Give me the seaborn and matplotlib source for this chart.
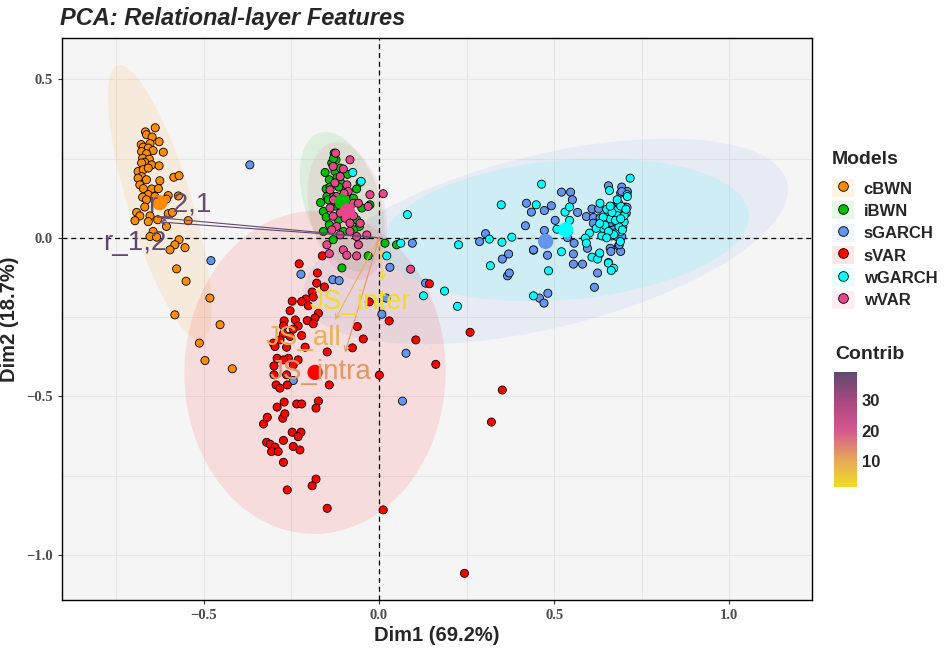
import numpy as np
import pandas as pd
import matplotlib
matplotlib.use("Agg")
import matplotlib.pyplot as plt
import seaborn as sns
from matplotlib.colors import LinearSegmentedColormap, Normalize
from matplotlib.patches import Polygon, Patch
from matplotlib.lines import Line2D
import matplotlib.cm as cm

#------ individual coordinates per model (Dim1, Dim2) ------
cbwn_x = [-0.639, -0.667, -0.664, -0.648, -0.628, -0.679, -0.654, -0.673, -0.659, -0.645,
          -0.616, -0.678, -0.664, -0.675, -0.656, -0.669, -0.678, -0.649, -0.628, -0.688,
          -0.673, -0.659, -0.678, -0.688, -0.664, -0.626, -0.586, -0.571, -0.683, -0.673,
          -0.649, -0.630, -0.659, -0.640, -0.675, -0.602, -0.573, -0.664, -0.630, -0.607,
          -0.669, -0.692, -0.683, -0.654, -0.697, -0.659, -0.632, -0.602, -0.590, -0.607,
          -0.545, -0.645, -0.654, -0.635, -0.571, -0.583, -0.597, -0.554, -0.578, -0.551,
          -0.483, -0.583, -0.454, -0.513, -0.497, -0.419]
cbwn_y = [0.347, 0.334, 0.325, 0.318, 0.303, 0.294, 0.297, 0.286, 0.283, 0.275,
          0.270, 0.272, 0.265, 0.251, 0.248, 0.238, 0.236, 0.230, 0.227, 0.209,
          0.215, 0.220, 0.193, 0.188, 0.183, 0.180, 0.191, 0.196, 0.167, 0.155,
          0.154, 0.155, 0.136, 0.130, 0.128, 0.133, 0.132, 0.120, 0.120, 0.122,
          0.097, 0.080, 0.069, 0.069, 0.054, 0.051, 0.057, 0.076, 0.080, 0.036,
          0.054, 0.020, 0.004, 0.002, -0.006, -0.022, -0.038, -0.031, -0.098, -0.137,
          -0.190, -0.243, -0.274, -0.332, -0.387, -0.413]

ibwn_x = [-0.128, -0.123, -0.135, -0.154, -0.126, -0.142, -0.151, -0.111, -0.149, -0.167,
          -0.159, -0.151, -0.142, -0.159, -0.131, -0.102, -0.054, -0.064, -0.073, -0.049,
          -0.064, -0.056, -0.026, -0.073, -0.102, -0.116, -0.135, -0.031, -0.106, 0.017,
          0.050, -0.140, -0.120, -0.100, -0.130, -0.110, -0.145, -0.090, -0.130, -0.115,
          -0.125]
ibwn_y = [0.267, 0.246, 0.236, 0.206, 0.209, 0.183, 0.154, 0.178, 0.130, 0.111,
          0.083, 0.065, 0.041, 0.020, -0.006, 0.020, 0.175, 0.154, 0.125, 0.094,
          0.057, 0.036, 0.104, 0.025, 0.088, 0.057, 0.115, -0.057, -0.095, -0.017,
          -0.022, 0.160, 0.190, 0.150, 0.130, 0.220, 0.120, 0.200, 0.250, 0.160,
          0.100]

sgarch_x = [0.095, 0.031, 0.133, 0.020, 0.008, 0.077, 0.067, 0.287, 0.304, 0.352,
            0.370, 0.367, 0.372, 0.441, 0.458, 0.471, -0.369, -0.480, -0.223, -0.132,
            -0.114, -0.245, 0.421, 0.435, 0.472, 0.492, 0.521, 0.547, 0.552, 0.418,
            0.503, 0.472, 0.538, 0.557, 0.441, 0.481, 0.555, 0.555, 0.581, 0.595,
            0.624, 0.615, 0.482, 0.655, 0.693, 0.709, 0.690, 0.608, 0.627, 0.567,
            0.592, 0.612, 0.631, 0.655, 0.670, 0.684, 0.703, 0.706, 0.686, 0.646,
            0.622, 0.612, 0.660, 0.679, 0.696, 0.653, 0.670, 0.686, 0.650, 0.665,
            0.679, 0.693, 0.660, 0.684, 0.662, 0.690, 0.696, 0.629, 0.655, 0.686,
            0.708, 0.693]
sgarch_y = [-0.017, -0.093, -0.143, -0.190, -0.241, -0.364, -0.515, -0.012, 0.013, -0.067,
            -0.051, -0.120, -0.111, -0.039, -0.190, -0.206, 0.230, -0.072, -0.115, -0.132,
            -0.135, -0.450, 0.109, 0.081, 0.086, 0.101, 0.144, 0.144, 0.120, 0.038,
            0.055, 0.023, 0.001, -0.017, -0.038, -0.055, -0.051, -0.083, -0.083, -0.033,
            -0.111, -0.156, -0.175, 0.164, 0.160, 0.146, 0.141, 0.091, 0.091, 0.080,
            0.067, 0.064, 0.062, 0.078, 0.099, 0.109, 0.097, 0.078, 0.078, 0.055,
            0.041, 0.046, 0.046, 0.046, 0.051, 0.025, 0.025, 0.027, 0.010, 0.006,
            0.004, 0.004, -0.033, -0.026, -0.043, -0.043, 0.036, -0.052, -0.078, -0.022,
            0.096, 0.146]

svar_x = [-0.162, -0.228, -0.176, -0.178, -0.156, -0.191, -0.188, -0.209, -0.221, -0.248,
          -0.202, -0.254, -0.173, -0.183, -0.205, -0.271, -0.239, -0.188, -0.231, -0.273,
          -0.245, -0.221, -0.273, -0.254, -0.283, -0.302, -0.297, -0.264, -0.211, -0.148,
          -0.076, -0.045, -0.062, -0.291, -0.259, -0.231, -0.273, -0.300, -0.245, -0.300,
          -0.264, -0.294, -0.283, -0.262, -0.142, -0.271, -0.291, -0.235, -0.221, -0.173,
          -0.180, -0.319, -0.330, -0.275, -0.269, -0.248, -0.223, -0.231, -0.273, -0.321,
          -0.311, -0.297, -0.307, -0.288, -0.245, -0.226, -0.273, -0.180, -0.191, -0.262,
          0.001, -0.028, 0.029, -0.148, 0.012, 0.244, 0.144, 0.105, 0.162, 0.260,
          0.352, 0.321]
svar_y = [-0.057, -0.082, -0.111, -0.143, -0.155, -0.171, -0.187, -0.193, -0.201, -0.200,
          -0.214, -0.230, -0.238, -0.253, -0.261, -0.262, -0.259, -0.271, -0.278, -0.278,
          -0.288, -0.308, -0.303, -0.311, -0.322, -0.332, -0.343, -0.345, -0.345, -0.360,
          -0.347, -0.319, -0.280, -0.380, -0.380, -0.385, -0.385, -0.404, -0.401, -0.432,
          -0.432, -0.464, -0.474, -0.464, -0.464, -0.518, -0.534, -0.524, -0.524, -0.515,
          -0.537, -0.566, -0.587, -0.569, -0.555, -0.613, -0.613, -0.627, -0.639, -0.645,
          -0.651, -0.660, -0.674, -0.674, -0.658, -0.669, -0.708, -0.761, -0.782, -0.795,
          -0.433, -0.202, -0.262, -0.853, -0.858, -1.058, -0.145, -0.322, -0.399, -0.298,
          -0.480, -0.581]

wgarch_x = [0.062, 0.022, 0.227, 0.315, 0.351, 0.379, 0.318, 0.187, 0.127, 0.224,
            0.441, 0.484, 0.464, 0.449, 0.531, 0.544, 0.544, 0.541, 0.508, 0.601,
            0.589, 0.592, 0.521, 0.608, 0.624, 0.630, 0.655, 0.670, 0.663, 0.717,
            0.658, 0.631, 0.681, 0.690, 0.636, 0.689, 0.708, 0.674, 0.709, -0.075,
            -0.051, 0.081, 0.349, 0.660, 0.680, 0.640, 0.670, 0.700, 0.650, 0.690,
            0.620, 0.645, 0.665, 0.685, 0.700, 0.655, 0.675, 0.695, 0.640, 0.660,
            0.680, 0.705, 0.630, 0.650, 0.690]
wgarch_y = [-0.017, -0.057, -0.022, -0.004, -0.014, 0.002, -0.088, -0.168, -0.183, -0.216,
            -0.183, -0.104, 0.169, 0.104, 0.081, 0.097, 0.055, 0.020, 0.027, 0.015,
            -0.001, -0.017, -0.044, -0.061, -0.067, -0.048, -0.080, -0.096, -0.103, 0.188,
            0.149, 0.109, 0.088, 0.020, 0.006, -0.012, 0.136, 0.015, 0.130, 0.206,
            0.178, 0.073, 0.104, 0.060, 0.070, 0.030, 0.010, 0.050, 0.090, 0.100,
            0.030, 0.040, 0.080, 0.035, 0.070, 0.020, 0.055, 0.025, 0.065, 0.100,
            0.120, 0.090, 0.045, 0.000, 0.060]

wvar_x = [-0.124, -0.083, -0.131, -0.102, -0.111, -0.126, -0.092, -0.140, -0.088, -0.121,
          -0.073, -0.059, -0.031, -0.140, -0.111, -0.088, -0.131, -0.097, -0.073, -0.121,
          -0.083, -0.054, -0.135, -0.111, -0.083, -0.064, -0.035, -0.149, -0.142, -0.102,
          -0.092, -0.059, -0.064, -0.026, 0.012, 0.090, -0.105, -0.115, -0.095, -0.120,
          -0.100, -0.130]
wvar_y = [0.267, 0.246, 0.225, 0.217, 0.193, 0.173, 0.167, 0.151, 0.146, 0.130,
          0.109, 0.109, 0.099, 0.094, 0.078, 0.083, 0.068, 0.062, 0.069, 0.036,
          0.046, 0.046, 0.025, 0.009, 0.020, 0.004, 0.009, -0.022, -0.050, -0.038,
          -0.055, -0.022, -0.057, 0.136, 0.139, -0.099, 0.120, 0.105, 0.125, 0.115,
          0.140, 0.120]

models = ["cBWN", "iBWN", "sGARCH", "sVAR", "wGARCH", "wVAR"]
model_colors = ["#FF8C00", "#00C000", "#6495ED", "#FF0000", "#00FFFF", "#E8468C"]

#------ variables (arrow tips) and their contributions ------
var_names = ["r_2,1", "r_1,2", "JS_inter", "JS_all", "JS_intra"]
var_x = [-0.625, -0.628, 0.011, -0.126, -0.097]
var_y = [0.063, 0.050, -0.135, -0.259, -0.362]
var_contrib = [38.5, 39.5, 1.3, 8.5, 12.2]

#------ build data frame ------
xs = [cbwn_x, ibwn_x, sgarch_x, svar_x, wgarch_x, wvar_x]
ys = [cbwn_y, ibwn_y, sgarch_y, svar_y, wgarch_y, wvar_y]
frames = []
for m, x, y in zip(models, xs, ys):
    frames.append(pd.DataFrame({"Dim1": x, "Dim2": y, "Model": m}))
df = pd.concat(frames, ignore_index=True)
means = df.groupby("Model", sort=False)[["Dim1", "Dim2"]].mean().reset_index()
pal = dict(zip(models, model_colors))

#------ figure ------
sns.set_style("white")
plt.rcParams["font.family"] = ["Liberation Sans", "DejaVu Sans"]

fig = plt.figure(figsize=(9.5, 6.5), dpi=100)
ax = fig.add_axes([0.065, 0.077, 0.790, 0.865])
ax.set_facecolor("#F5F5F5")

# 95% normal ellipses per group
r = 2.5
t = np.linspace(0, 2 * np.pi, 101)
for m in models:
    sub = df[df["Model"] == m][["Dim1", "Dim2"]].to_numpy()
    mu = sub.mean(axis=0)
    cov = np.cov(sub.T)
    vals, vecs = np.linalg.eigh(cov)
    circ = np.vstack([np.cos(t), np.sin(t)])
    pts = (vecs @ np.diag(np.sqrt(vals)) @ circ) * r + mu[:, None]
    ax.add_patch(Polygon(pts.T, closed=True, facecolor=pal[m], alpha=0.1,
                         edgecolor="none", zorder=1))

sns.scatterplot(data=df, x="Dim1", y="Dim2", hue="Model", hue_order=models,
                palette=pal, s=34, edgecolor="black", linewidth=0.6,
                legend=False, ax=ax, zorder=3)
sns.scatterplot(data=means, x="Dim1", y="Dim2", hue="Model", hue_order=models,
                palette=pal, s=120, edgecolor="none", linewidth=0,
                legend=False, ax=ax, zorder=4)

ax.axhline(0, color="black", linestyle=(0, (4, 3)), lw=0.9, zorder=2)
ax.axvline(0, color="black", linestyle=(0, (4, 3)), lw=0.9, zorder=2)

# contribution colour scale
cmap = LinearSegmentedColormap.from_list(
    "contrib", [(0.0, "#EEDD22"), (0.23, "#E8A85A"), (0.49, "#D5588F"),
                (0.75, "#A8487F"), (1.0, "#5E4A6F")])
norm = Normalize(vmin=1.3, vmax=39.5)

label_off = {"r_2,1": (0.056, 0.041), "r_1,2": (-0.069, -0.067),
             "JS_inter": (-0.063, -0.066), "JS_all": (-0.090, -0.057),
             "JS_intra": (-0.069, -0.060)}
for name, vx, vy, c in zip(var_names, var_x, var_y, var_contrib):
    col = cmap(norm(c))
    ax.annotate("", xy=(vx, vy), xytext=(0, 0),
                arrowprops=dict(arrowstyle="->", color=col, lw=0.8,
                                mutation_scale=9, shrinkA=0, shrinkB=0),
                zorder=5)
    dx, dy = label_off[name]
    ax.text(vx + dx, vy + dy, name, color=col, fontsize=20, ha="center",
            va="center", zorder=6)

ax.set_xlim(-0.906, 1.237)
ax.set_ylim(-1.142, 0.631)
ax.set_xticks([-0.5, 0.0, 0.5, 1.0])
ax.set_yticks([0.5, 0.0, -0.5, -1.0])
ax.set_xticks([-0.75, -0.25, 0.25, 0.75], minor=True)
ax.set_yticks([0.25, -0.25, -0.75], minor=True)
ax.grid(True, which="both", color="#E6E6E6", lw=0.8, zorder=0)
ax.set_axisbelow(True)
for s in ax.spines.values():
    s.set_color("black")
    s.set_linewidth(1.0)
ax.tick_params(which="major", length=3, width=0.8, color="#333333",
               labelsize=10.5, labelcolor="#4D4D4D", bottom=True, left=True)
ax.tick_params(which="minor", length=0)
for lab in ax.get_xticklabels() + ax.get_yticklabels():
    lab.set_fontfamily("Liberation Serif")
    lab.set_fontweight("bold")
ax.set_xlabel("Dim1 (69.2%)", fontsize=14.5, fontweight="bold", labelpad=3)
ax.set_ylabel("Dim2 (18.7%)", fontsize=14.5, fontweight="bold", labelpad=5)

fig.text(0.063, 1 - 18 / 650, "PCA: Relational-layer Features", fontsize=17,
         fontweight="bold", fontstyle="italic", ha="left", va="center")

# legend for models
handles = []
for m in models:
    bg = Patch(facecolor=pal[m], alpha=0.1, edgecolor="none")
    dot = Line2D([], [], marker="o", linestyle="none", markersize=7,
                 markerfacecolor=pal[m], markeredgecolor="black", markeredgewidth=0.6)
    handles.append((bg, dot))
leg = fig.legend(handles, models, title="Models", loc="upper left",
                 bbox_to_anchor=(0.876, 0.768), frameon=False,
                 prop={"weight": "bold", "size": 12}, handlelength=1.3,
                 handleheight=1.3, labelspacing=0.25, handletextpad=0.6,
                 borderaxespad=0, borderpad=0)
leg.get_title().set_fontweight("bold")
leg.get_title().set_fontsize(14)
leg._legend_box.align = "left"
leg._legend_box.sep = 8

# colour bar for contributions
fig.text(0.879, 1 - 355 / 650, "Contrib", fontsize=14, fontweight="bold",
         ha="left", va="center")
cax = fig.add_axes([0.878, 0.251, 0.024, 0.177])
sm = cm.ScalarMappable(norm=norm, cmap=cmap)
cb = fig.colorbar(sm, cax=cax, ticks=[10, 20, 30])
cb.outline.set_visible(False)
cax.tick_params(length=4, width=1, color="white", direction="in", labelsize=12)
for lab in cax.get_yticklabels():
    lab.set_fontweight("bold")

fig.savefig("out.png", dpi=100)
